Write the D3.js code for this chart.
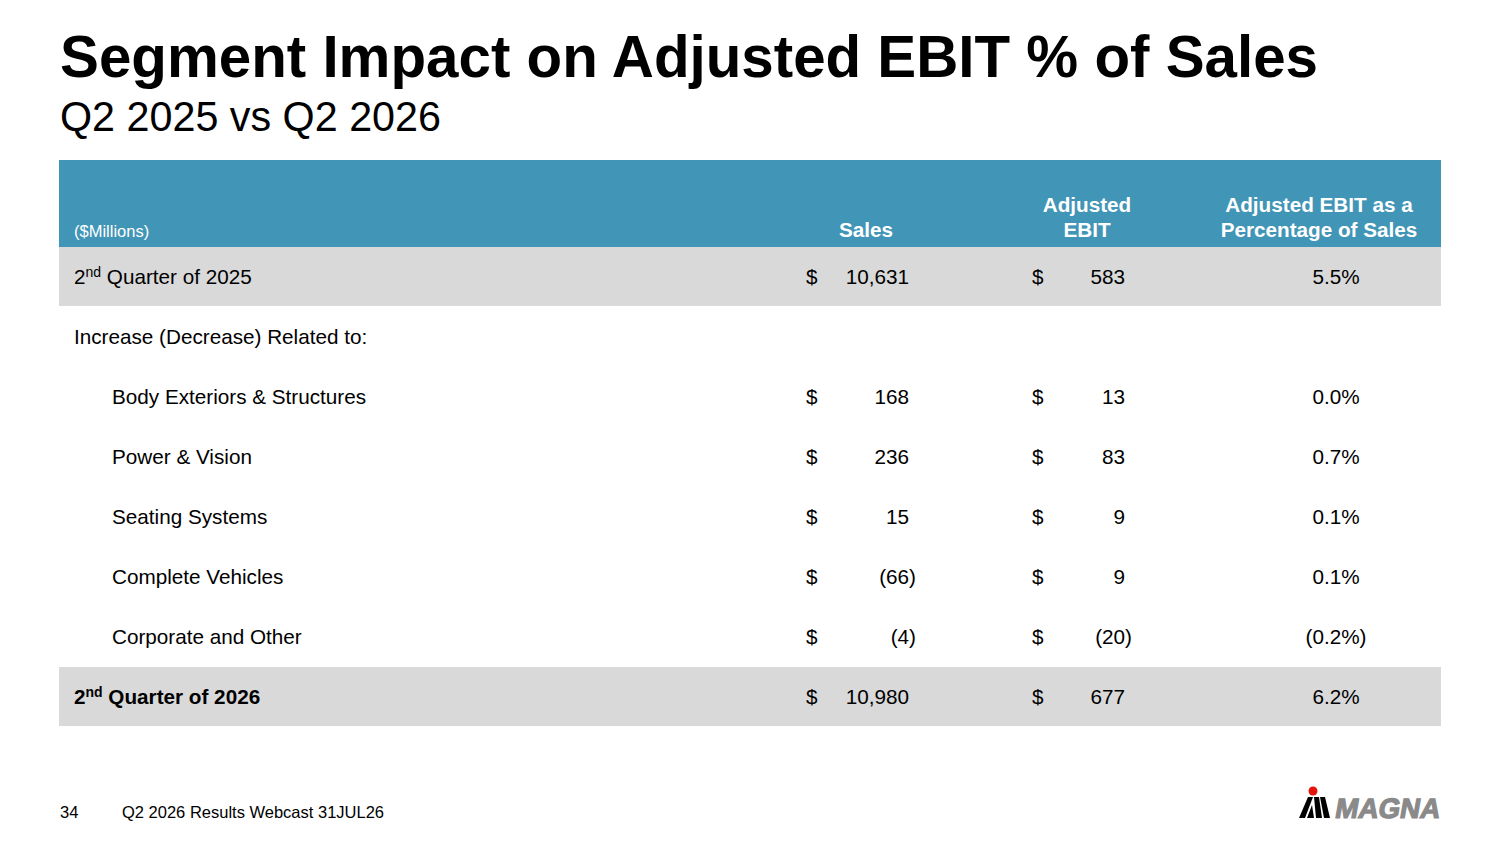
<!DOCTYPE html>
<html>
<head>
<meta charset="utf-8">
<script src="https://cdn.jsdelivr.net/npm/d3@7"></script>
<style>
  body { margin: 0; background: #fff; }
  svg { display: block; font-family: "Liberation Sans", Arial, sans-serif; }
</style>
</head>
<body>
<div id="chart"></div>
<script>

// table data
var rowLabels = [
    "2nd Quarter of 2025",
    "Increase (Decrease) Related to:",
    "Body Exteriors & Structures",
    "Power & Vision",
    "Seating Systems",
    "Complete Vehicles",
    "Corporate and Other",
    "2nd Quarter of 2026"
];
var rowKinds = ["total", "heading", "segment", "segment", "segment", "segment", "segment", "grandtotal"];
var salesValues = [10631, null, 168, 236, 15, -66, -4, 10980];
var ebitValues = [583, null, 13, 83, 9, 9, -20, 677];
var pctValues = [5.5, null, 0.0, 0.7, 0.1, 0.1, -0.2, 6.2];

var columnHeaders = [
    { key: "sales", lines: ["Sales"] },
    { key: "ebit", lines: ["Adjusted", "EBIT"] },
    { key: "pct", lines: ["Adjusted EBIT as a", "Percentage of Sales"] }
];

var width = 1500, height = 844;
var bodySize = 20.7;

var svg = d3.select("#chart")
    .append("svg")
    .attr("width", width)
    .attr("height", height);

var table = { left: 59, right: 1441, headTop: 160, headBottom: 247 };

// rows
var y = d3.scaleBand()
    .domain(d3.range(rowLabels.length))
    .range([table.headBottom, table.headBottom + rowLabels.length * 60])
    .padding(0);

// column anchors
var colHeadX = d3.scaleOrdinal().domain(["sales", "ebit", "pct"]).range([866, 1087, 1319]);
var dollarX = d3.scaleOrdinal().domain(["sales", "ebit"]).range([806, 1032]);
var valueRightX = d3.scaleOrdinal().domain(["sales", "ebit"]).range([909, 1125]);
var pctCenterX = 1336;

var fmtNum = d3.format(",");
function fmtMoney(v) {
    return v < 0 ? "(" + fmtNum(-v) + ")" : fmtNum(v);
}
function fmtPct(v) {
    return v < 0 ? "(" + d3.format(".1f")(-v) + "%)" : d3.format(".1f")(v) + "%";
}

// title
svg.append("text")
    .attr("x", 60)
    .attr("y", 77)
    .attr("font-size", 60)
    .attr("font-weight", 700)
    .attr("textLength", 1258)
    .attr("lengthAdjust", "spacingAndGlyphs")
    .text("Segment Impact on Adjusted EBIT % of Sales");

svg.append("text")
    .attr("x", 60)
    .attr("y", 131)
    .attr("font-size", 43)
    .attr("textLength", 381)
    .attr("lengthAdjust", "spacingAndGlyphs")
    .text("Q2 2025 vs Q2 2026");

// header band
svg.append("rect")
    .attr("x", table.left)
    .attr("y", table.headTop)
    .attr("width", table.right - table.left)
    .attr("height", table.headBottom - table.headTop)
    .attr("fill", "#4195b6");

svg.append("text")
    .attr("x", 74)
    .attr("y", 237)
    .attr("font-size", 16.5)
    .attr("fill", "#fff")
    .text("($Millions)");

columnHeaders.forEach(function (h) {
    var n = h.lines.length;
    h.lines.forEach(function (line, i) {
        svg.append("text")
            .attr("x", colHeadX(h.key))
            .attr("y", 237 - (n - 1 - i) * 25)
            .attr("text-anchor", "middle")
            .attr("font-size", bodySize)
            .attr("font-weight", 700)
            .attr("fill", "#fff")
            .text(line);
    });
});

// row shading
var rows = svg.selectAll("g.row")
    .data(rowLabels.map(function (label, i) {
        return {
            i: i,
            label: label,
            kind: rowKinds[i],
            sales: salesValues[i],
            ebit: ebitValues[i],
            pct: pctValues[i]
        };
    }))
    .enter()
    .append("g")
    .attr("class", "row")
    .attr("transform", function (d) { return "translate(0," + y(d.i) + ")"; });

rows.filter(function (d) { return d.kind === "total" || d.kind === "grandtotal"; })
    .append("rect")
    .attr("x", table.left)
    .attr("y", 0)
    .attr("width", table.right - table.left)
    .attr("height", y.bandwidth() - 1)
    .attr("fill", "#d9d9d9");

var baseline = y.bandwidth() / 2 + 7;

// labels, with ordinal suffix raised
rows.each(function (d) {
    var g = d3.select(this);
    var t = g.append("text")
        .attr("x", d.kind === "segment" ? 112 : 74)
        .attr("y", baseline)
        .attr("font-size", bodySize)
        .attr("font-weight", d.kind === "grandtotal" ? 700 : 400);
    var m = d.label.match(/^(\d+)(st|nd|rd|th)(.*)$/);
    if (m) {
        t.append("tspan").text(m[1]);
        t.append("tspan").attr("font-size", 14).attr("dy", -7).text(m[2]);
        t.append("tspan").attr("dy", 7).text(m[3]);
    } else {
        t.text(d.label);
    }
});

["sales", "ebit"].forEach(function (key) {
    var withVal = rows.filter(function (d) { return d[key] !== null; });
    withVal.append("text")
        .attr("x", dollarX(key))
        .attr("y", baseline)
        .attr("font-size", bodySize)
        .text("$");
    withVal.append("text")
        .attr("x", function (d) { return valueRightX(key) + (d[key] < 0 ? 7 : 0); })
        .attr("y", baseline)
        .attr("text-anchor", "end")
        .attr("font-size", bodySize)
        .text(function (d) { return fmtMoney(d[key]); });
});

rows.filter(function (d) { return d.pct !== null; })
    .append("text")
    .attr("x", pctCenterX)
    .attr("y", baseline)
    .attr("text-anchor", "middle")
    .attr("font-size", bodySize)
    .text(function (d) { return fmtPct(d.pct); });

// footer
svg.append("text")
    .attr("x", 60)
    .attr("y", 818)
    .attr("font-size", 16.5)
    .text("34");

svg.append("text")
    .attr("x", 122)
    .attr("y", 818)
    .attr("font-size", 16.5)
    .text("Q2 2026 Results Webcast 31JUL26");

// logo
var logo = svg.append("g").attr("transform", "translate(1299,797)");
logo.append("path")
    .attr("d", "M0,21 L9,0 L14,0 L6,21 Z M8,21 L13,8 L15,21 Z M15,0 L20,0 L23,21 L17,21 Z M21,0 L26,0 L31,21 L25,21 Z")
    .attr("fill", "#000");
logo.append("circle")
    .attr("cx", 14)
    .attr("cy", -6)
    .attr("r", 4.5)
    .attr("fill", "#e3120b");
svg.append("text")
    .attr("transform", "translate(1334,818) skewX(-10)")
    .attr("font-size", 28)
    .attr("font-weight", 700)
    .attr("fill", "#8a8a8a")
    .attr("stroke", "#8a8a8a")
    .attr("stroke-width", 1.2)
    .attr("textLength", 105)
    .attr("lengthAdjust", "spacingAndGlyphs")
    .text("MAGNA");

</script>
</body>
</html>
